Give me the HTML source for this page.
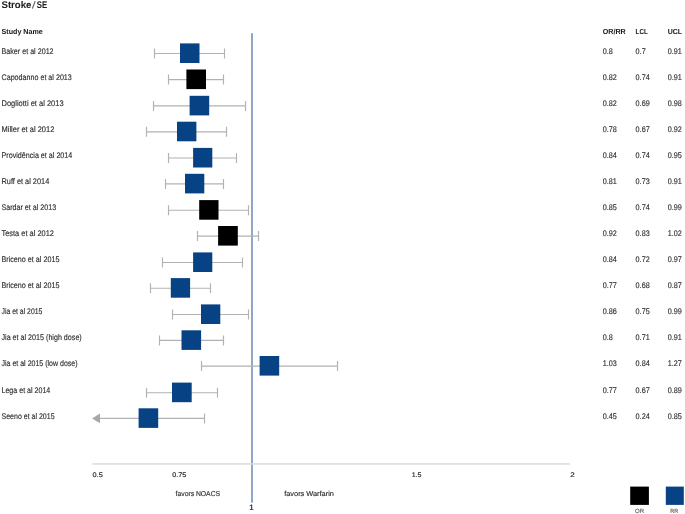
<!DOCTYPE html>
<html><head><meta charset="utf-8"><title>Stroke/SE</title>
<style>
html,body{margin:0;padding:0;background:#fff;width:685px;height:514px;overflow:hidden;}
svg{display:block;font-family:"Liberation Sans", sans-serif;}
.tx{text-rendering:geometricPrecision;will-change:transform;}
</style></head><body>
<svg width="685" height="514" viewBox="0 0 685 514">
<rect x="251" y="33.2" width="2" height="469.5" fill="#8ca8c7"/>
<rect x="92.5" y="463.2" width="477.5" height="1.5" fill="#dadada"/>
<path d="M154.5 53.5H224.5M154.5 48.5V58.5M224.5 48.5V58.5" stroke="#b2b2b2" stroke-width="1.15" fill="none"/>
<rect x="180.0" y="43.4" width="19.50" height="19.6" fill="#074384"/>
<path d="M168.5 79.6H223.5M168.5 74.6V84.6M223.5 74.6V84.6" stroke="#b2b2b2" stroke-width="1.15" fill="none"/>
<rect x="186.4" y="69.5" width="19.60" height="19.6" fill="#000000"/>
<path d="M153.5 105.9H245.5M153.5 100.9V110.9M245.5 100.9V110.9" stroke="#b2b2b2" stroke-width="1.15" fill="none"/>
<rect x="189.6" y="95.8" width="19.60" height="19.6" fill="#074384"/>
<path d="M146.5 131.8H226.5M146.5 126.80000000000001V136.8M226.5 126.80000000000001V136.8" stroke="#b2b2b2" stroke-width="1.15" fill="none"/>
<rect x="177.0" y="121.7" width="19.40" height="19.6" fill="#074384"/>
<path d="M168.5 158.0H236.5M168.5 153.0V163.0M236.5 153.0V163.0" stroke="#b2b2b2" stroke-width="1.15" fill="none"/>
<rect x="193.1" y="147.9" width="19.20" height="19.6" fill="#074384"/>
<path d="M165.5 183.9H223.5M165.5 178.9V188.9M223.5 178.9V188.9" stroke="#b2b2b2" stroke-width="1.15" fill="none"/>
<rect x="185.0" y="173.8" width="19.30" height="19.6" fill="#074384"/>
<path d="M168.5 210.2H248.5M168.5 205.2V215.2M248.5 205.2V215.2" stroke="#b2b2b2" stroke-width="1.15" fill="none"/>
<rect x="199.2" y="200.1" width="19.30" height="19.6" fill="#000000"/>
<path d="M197.5 236.1H258.5M197.5 231.1V241.1M258.5 231.1V241.1" stroke="#b2b2b2" stroke-width="1.15" fill="none"/>
<rect x="218.1" y="226.0" width="19.70" height="19.6" fill="#000000"/>
<path d="M162.5 262.5H242.5M162.5 257.5V267.5M242.5 257.5V267.5" stroke="#b2b2b2" stroke-width="1.15" fill="none"/>
<rect x="193.1" y="252.4" width="19.20" height="19.6" fill="#074384"/>
<path d="M150.5 288.2H210.5M150.5 283.2V293.2M210.5 283.2V293.2" stroke="#b2b2b2" stroke-width="1.15" fill="none"/>
<rect x="170.8" y="278.1" width="19.30" height="19.6" fill="#074384"/>
<path d="M172.5 314.5H248.5M172.5 309.5V319.5M248.5 309.5V319.5" stroke="#b2b2b2" stroke-width="1.15" fill="none"/>
<rect x="201.0" y="304.4" width="19.30" height="19.6" fill="#074384"/>
<path d="M159.5 340.4H223.5M159.5 335.4V345.4M223.5 335.4V345.4" stroke="#b2b2b2" stroke-width="1.15" fill="none"/>
<rect x="181.5" y="330.3" width="19.60" height="19.6" fill="#074384"/>
<path d="M201.5 366.1H337.5M201.5 361.1V371.1M337.5 361.1V371.1" stroke="#b2b2b2" stroke-width="1.15" fill="none"/>
<rect x="259.6" y="356.0" width="19.60" height="19.6" fill="#074384"/>
<path d="M146.5 392.7H217.5M146.5 387.7V397.7M217.5 387.7V397.7" stroke="#b2b2b2" stroke-width="1.15" fill="none"/>
<rect x="172.0" y="382.6" width="19.70" height="19.6" fill="#074384"/>
<path d="M99 418.4H204.5M204.5 413.4V423.4" stroke="#b2b2b2" stroke-width="1.15" fill="none"/>
<path d="M92.1 418.4 L100 413.59999999999997 L100 423.2 Z" fill="#a8a8a8"/>
<rect x="138.6" y="408.3" width="19.60" height="19.6" fill="#074384"/>
<path d="M32.3 8.6L35.2 1.1" stroke="#555" stroke-width="1.05" fill="none"/>
<rect x="630.2" y="486.6" width="18.7" height="18.3" fill="#000"/>
<rect x="665.8" y="486.6" width="18.0" height="18.3" fill="#074384"/>
<g class="tx">
<text id="t_title" x="1.5" y="7.80" font-size="9.7" fill="#1e1e1e" stroke="#1e1e1e" stroke-width="0.05" font-weight="bold" textLength="29.96" lengthAdjust="spacingAndGlyphs">Stroke</text>
<text id="t_title2" x="36.8" y="7.80" font-size="9.7" fill="#1e1e1e" stroke="#1e1e1e" stroke-width="0.05" font-weight="bold" textLength="10.38" lengthAdjust="spacingAndGlyphs">SE</text>
<text id="t_study" x="1.5" y="33.95" font-size="7.3" fill="#1e1e1e" stroke="#1e1e1e" stroke-width="0.05" font-weight="bold" textLength="41.31" lengthAdjust="spacingAndGlyphs">Study Name</text>
<text id="t_h1" x="602.8" y="34.10" font-size="7.3" fill="#1e1e1e" stroke="#1e1e1e" stroke-width="0.05" font-weight="bold" textLength="22.90" lengthAdjust="spacingAndGlyphs">OR/RR</text>
<text id="t_h2" x="635.6" y="34.10" font-size="7.3" fill="#1e1e1e" stroke="#1e1e1e" stroke-width="0.05" font-weight="bold" textLength="12.11" lengthAdjust="spacingAndGlyphs">LCL</text>
<text id="t_h3" x="667.8" y="34.10" font-size="7.3" fill="#1e1e1e" stroke="#1e1e1e" stroke-width="0.05" font-weight="bold" textLength="14.30" lengthAdjust="spacingAndGlyphs">UCL</text>
<text id="n0" x="1.5" y="53.60" font-size="8.2" fill="#2e2e2e" stroke="#2e2e2e" stroke-width="0.15" textLength="52.11" lengthAdjust="spacingAndGlyphs">Baker et al 2012</text>
<text id="v0_0" x="602.8" y="53.60" font-size="8.2" fill="#2e2e2e" stroke="#2e2e2e" stroke-width="0.15" textLength="10.08" lengthAdjust="spacingAndGlyphs">0.8</text>
<text id="v0_1" x="635.6" y="53.60" font-size="8.2" fill="#2e2e2e" stroke="#2e2e2e" stroke-width="0.15" textLength="10.08" lengthAdjust="spacingAndGlyphs">0.7</text>
<text id="v0_2" x="667.8" y="53.60" font-size="8.2" fill="#2e2e2e" stroke="#2e2e2e" stroke-width="0.15" textLength="14.10" lengthAdjust="spacingAndGlyphs">0.91</text>
<text id="n1" x="1.5" y="79.67" font-size="8.2" fill="#2e2e2e" stroke="#2e2e2e" stroke-width="0.15" textLength="70.31" lengthAdjust="spacingAndGlyphs">Capodanno et al 2013</text>
<text id="v1_0" x="602.8" y="79.67" font-size="8.2" fill="#2e2e2e" stroke="#2e2e2e" stroke-width="0.15" textLength="14.10" lengthAdjust="spacingAndGlyphs">0.82</text>
<text id="v1_1" x="635.6" y="79.67" font-size="8.2" fill="#2e2e2e" stroke="#2e2e2e" stroke-width="0.15" textLength="14.10" lengthAdjust="spacingAndGlyphs">0.74</text>
<text id="v1_2" x="667.8" y="79.67" font-size="8.2" fill="#2e2e2e" stroke="#2e2e2e" stroke-width="0.15" textLength="14.10" lengthAdjust="spacingAndGlyphs">0.91</text>
<text id="n2" x="1.5" y="105.74" font-size="8.2" fill="#2e2e2e" stroke="#2e2e2e" stroke-width="0.15" textLength="62.13" lengthAdjust="spacingAndGlyphs">Dogliotti et al 2013</text>
<text id="v2_0" x="602.8" y="105.74" font-size="8.2" fill="#2e2e2e" stroke="#2e2e2e" stroke-width="0.15" textLength="14.10" lengthAdjust="spacingAndGlyphs">0.82</text>
<text id="v2_1" x="635.6" y="105.74" font-size="8.2" fill="#2e2e2e" stroke="#2e2e2e" stroke-width="0.15" textLength="14.10" lengthAdjust="spacingAndGlyphs">0.69</text>
<text id="v2_2" x="667.8" y="105.74" font-size="8.2" fill="#2e2e2e" stroke="#2e2e2e" stroke-width="0.15" textLength="14.10" lengthAdjust="spacingAndGlyphs">0.98</text>
<text id="n3" x="1.5" y="131.81" font-size="8.2" fill="#2e2e2e" stroke="#2e2e2e" stroke-width="0.15" textLength="52.80" lengthAdjust="spacingAndGlyphs">Miller et al 2012</text>
<text id="v3_0" x="602.8" y="131.81" font-size="8.2" fill="#2e2e2e" stroke="#2e2e2e" stroke-width="0.15" textLength="14.10" lengthAdjust="spacingAndGlyphs">0.78</text>
<text id="v3_1" x="635.6" y="131.81" font-size="8.2" fill="#2e2e2e" stroke="#2e2e2e" stroke-width="0.15" textLength="14.10" lengthAdjust="spacingAndGlyphs">0.67</text>
<text id="v3_2" x="667.8" y="131.81" font-size="8.2" fill="#2e2e2e" stroke="#2e2e2e" stroke-width="0.15" textLength="14.10" lengthAdjust="spacingAndGlyphs">0.92</text>
<text id="n4" x="1.5" y="157.88" font-size="8.2" fill="#2e2e2e" stroke="#2e2e2e" stroke-width="0.15" textLength="70.81" lengthAdjust="spacingAndGlyphs">Providência et al 2014</text>
<text id="v4_0" x="602.8" y="157.88" font-size="8.2" fill="#2e2e2e" stroke="#2e2e2e" stroke-width="0.15" textLength="14.10" lengthAdjust="spacingAndGlyphs">0.84</text>
<text id="v4_1" x="635.6" y="157.88" font-size="8.2" fill="#2e2e2e" stroke="#2e2e2e" stroke-width="0.15" textLength="14.10" lengthAdjust="spacingAndGlyphs">0.74</text>
<text id="v4_2" x="667.8" y="157.88" font-size="8.2" fill="#2e2e2e" stroke="#2e2e2e" stroke-width="0.15" textLength="14.10" lengthAdjust="spacingAndGlyphs">0.95</text>
<text id="n5" x="1.5" y="183.95" font-size="8.2" fill="#2e2e2e" stroke="#2e2e2e" stroke-width="0.15" textLength="47.74" lengthAdjust="spacingAndGlyphs">Ruff et al 2014</text>
<text id="v5_0" x="602.8" y="183.95" font-size="8.2" fill="#2e2e2e" stroke="#2e2e2e" stroke-width="0.15" textLength="14.10" lengthAdjust="spacingAndGlyphs">0.81</text>
<text id="v5_1" x="635.6" y="183.95" font-size="8.2" fill="#2e2e2e" stroke="#2e2e2e" stroke-width="0.15" textLength="14.10" lengthAdjust="spacingAndGlyphs">0.73</text>
<text id="v5_2" x="667.8" y="183.95" font-size="8.2" fill="#2e2e2e" stroke="#2e2e2e" stroke-width="0.15" textLength="14.10" lengthAdjust="spacingAndGlyphs">0.91</text>
<text id="n6" x="1.5" y="210.02" font-size="8.2" fill="#2e2e2e" stroke="#2e2e2e" stroke-width="0.15" textLength="54.60" lengthAdjust="spacingAndGlyphs">Sardar et al 2013</text>
<text id="v6_0" x="602.8" y="210.02" font-size="8.2" fill="#2e2e2e" stroke="#2e2e2e" stroke-width="0.15" textLength="14.10" lengthAdjust="spacingAndGlyphs">0.85</text>
<text id="v6_1" x="635.6" y="210.02" font-size="8.2" fill="#2e2e2e" stroke="#2e2e2e" stroke-width="0.15" textLength="14.10" lengthAdjust="spacingAndGlyphs">0.74</text>
<text id="v6_2" x="667.8" y="210.02" font-size="8.2" fill="#2e2e2e" stroke="#2e2e2e" stroke-width="0.15" textLength="14.10" lengthAdjust="spacingAndGlyphs">0.99</text>
<text id="n7" x="1.5" y="236.09" font-size="8.2" fill="#2e2e2e" stroke="#2e2e2e" stroke-width="0.15" textLength="52.41" lengthAdjust="spacingAndGlyphs">Testa et al 2012</text>
<text id="v7_0" x="602.8" y="236.09" font-size="8.2" fill="#2e2e2e" stroke="#2e2e2e" stroke-width="0.15" textLength="14.10" lengthAdjust="spacingAndGlyphs">0.92</text>
<text id="v7_1" x="635.6" y="236.09" font-size="8.2" fill="#2e2e2e" stroke="#2e2e2e" stroke-width="0.15" textLength="14.10" lengthAdjust="spacingAndGlyphs">0.83</text>
<text id="v7_2" x="667.8" y="236.09" font-size="8.2" fill="#2e2e2e" stroke="#2e2e2e" stroke-width="0.15" textLength="14.10" lengthAdjust="spacingAndGlyphs">1.02</text>
<text id="n8" x="1.5" y="262.16" font-size="8.2" fill="#2e2e2e" stroke="#2e2e2e" stroke-width="0.15" textLength="57.87" lengthAdjust="spacingAndGlyphs">Briceno et al 2015</text>
<text id="v8_0" x="602.8" y="262.16" font-size="8.2" fill="#2e2e2e" stroke="#2e2e2e" stroke-width="0.15" textLength="14.10" lengthAdjust="spacingAndGlyphs">0.84</text>
<text id="v8_1" x="635.6" y="262.16" font-size="8.2" fill="#2e2e2e" stroke="#2e2e2e" stroke-width="0.15" textLength="14.10" lengthAdjust="spacingAndGlyphs">0.72</text>
<text id="v8_2" x="667.8" y="262.16" font-size="8.2" fill="#2e2e2e" stroke="#2e2e2e" stroke-width="0.15" textLength="14.10" lengthAdjust="spacingAndGlyphs">0.97</text>
<text id="n9" x="1.5" y="288.23" font-size="8.2" fill="#2e2e2e" stroke="#2e2e2e" stroke-width="0.15" textLength="57.87" lengthAdjust="spacingAndGlyphs">Briceno et al 2015</text>
<text id="v9_0" x="602.8" y="288.23" font-size="8.2" fill="#2e2e2e" stroke="#2e2e2e" stroke-width="0.15" textLength="14.10" lengthAdjust="spacingAndGlyphs">0.77</text>
<text id="v9_1" x="635.6" y="288.23" font-size="8.2" fill="#2e2e2e" stroke="#2e2e2e" stroke-width="0.15" textLength="14.10" lengthAdjust="spacingAndGlyphs">0.68</text>
<text id="v9_2" x="667.8" y="288.23" font-size="8.2" fill="#2e2e2e" stroke="#2e2e2e" stroke-width="0.15" textLength="14.10" lengthAdjust="spacingAndGlyphs">0.87</text>
<text id="n10" x="1.5" y="314.30" font-size="8.2" fill="#2e2e2e" stroke="#2e2e2e" stroke-width="0.15" textLength="40.94" lengthAdjust="spacingAndGlyphs">Jia et al 2015</text>
<text id="v10_0" x="602.8" y="314.30" font-size="8.2" fill="#2e2e2e" stroke="#2e2e2e" stroke-width="0.15" textLength="14.10" lengthAdjust="spacingAndGlyphs">0.86</text>
<text id="v10_1" x="635.6" y="314.30" font-size="8.2" fill="#2e2e2e" stroke="#2e2e2e" stroke-width="0.15" textLength="14.10" lengthAdjust="spacingAndGlyphs">0.75</text>
<text id="v10_2" x="667.8" y="314.30" font-size="8.2" fill="#2e2e2e" stroke="#2e2e2e" stroke-width="0.15" textLength="14.10" lengthAdjust="spacingAndGlyphs">0.99</text>
<text id="n11" x="1.5" y="340.37" font-size="8.2" fill="#2e2e2e" stroke="#2e2e2e" stroke-width="0.15" textLength="80.26" lengthAdjust="spacingAndGlyphs">Jia et al 2015 (high dose)</text>
<text id="v11_0" x="602.8" y="340.37" font-size="8.2" fill="#2e2e2e" stroke="#2e2e2e" stroke-width="0.15" textLength="10.08" lengthAdjust="spacingAndGlyphs">0.8</text>
<text id="v11_1" x="635.6" y="340.37" font-size="8.2" fill="#2e2e2e" stroke="#2e2e2e" stroke-width="0.15" textLength="14.10" lengthAdjust="spacingAndGlyphs">0.71</text>
<text id="v11_2" x="667.8" y="340.37" font-size="8.2" fill="#2e2e2e" stroke="#2e2e2e" stroke-width="0.15" textLength="14.10" lengthAdjust="spacingAndGlyphs">0.91</text>
<text id="n12" x="1.5" y="366.44" font-size="8.2" fill="#2e2e2e" stroke="#2e2e2e" stroke-width="0.15" textLength="76.05" lengthAdjust="spacingAndGlyphs">Jia et al 2015 (low dose)</text>
<text id="v12_0" x="602.8" y="366.44" font-size="8.2" fill="#2e2e2e" stroke="#2e2e2e" stroke-width="0.15" textLength="14.10" lengthAdjust="spacingAndGlyphs">1.03</text>
<text id="v12_1" x="635.6" y="366.44" font-size="8.2" fill="#2e2e2e" stroke="#2e2e2e" stroke-width="0.15" textLength="14.10" lengthAdjust="spacingAndGlyphs">0.84</text>
<text id="v12_2" x="667.8" y="366.44" font-size="8.2" fill="#2e2e2e" stroke="#2e2e2e" stroke-width="0.15" textLength="14.10" lengthAdjust="spacingAndGlyphs">1.27</text>
<text id="n13" x="1.5" y="392.51" font-size="8.2" fill="#2e2e2e" stroke="#2e2e2e" stroke-width="0.15" textLength="48.81" lengthAdjust="spacingAndGlyphs">Lega et al 2014</text>
<text id="v13_0" x="602.8" y="392.51" font-size="8.2" fill="#2e2e2e" stroke="#2e2e2e" stroke-width="0.15" textLength="14.10" lengthAdjust="spacingAndGlyphs">0.77</text>
<text id="v13_1" x="635.6" y="392.51" font-size="8.2" fill="#2e2e2e" stroke="#2e2e2e" stroke-width="0.15" textLength="14.10" lengthAdjust="spacingAndGlyphs">0.67</text>
<text id="v13_2" x="667.8" y="392.51" font-size="8.2" fill="#2e2e2e" stroke="#2e2e2e" stroke-width="0.15" textLength="14.10" lengthAdjust="spacingAndGlyphs">0.89</text>
<text id="n14" x="1.5" y="418.58" font-size="8.2" fill="#2e2e2e" stroke="#2e2e2e" stroke-width="0.15" textLength="53.08" lengthAdjust="spacingAndGlyphs">Seeno et al 2015</text>
<text id="v14_0" x="602.8" y="418.58" font-size="8.2" fill="#2e2e2e" stroke="#2e2e2e" stroke-width="0.15" textLength="14.10" lengthAdjust="spacingAndGlyphs">0.45</text>
<text id="v14_1" x="635.6" y="418.58" font-size="8.2" fill="#2e2e2e" stroke="#2e2e2e" stroke-width="0.15" textLength="14.10" lengthAdjust="spacingAndGlyphs">0.24</text>
<text id="v14_2" x="667.8" y="418.58" font-size="8.2" fill="#2e2e2e" stroke="#2e2e2e" stroke-width="0.15" textLength="14.10" lengthAdjust="spacingAndGlyphs">0.85</text>
<text id="ax0" x="92.5" y="477.00" font-size="6.7" fill="#1e1e1e" stroke="#1e1e1e" stroke-width="0.15" textLength="10.23" lengthAdjust="spacingAndGlyphs">0.5</text>
<text id="ax1" x="172.3" y="477.00" font-size="6.7" fill="#1e1e1e" stroke="#1e1e1e" stroke-width="0.15" textLength="14.06" lengthAdjust="spacingAndGlyphs">0.75</text>
<text id="ax2" x="411.7" y="477.00" font-size="6.7" fill="#1e1e1e" stroke="#1e1e1e" stroke-width="0.15" textLength="9.82" lengthAdjust="spacingAndGlyphs">1.5</text>
<text id="ax3" x="570.2" y="477.00" font-size="6.7" fill="#1e1e1e" stroke="#1e1e1e" stroke-width="0.15" textLength="4.45" lengthAdjust="spacingAndGlyphs">2</text>
<text id="fav1" x="175.6" y="495.60" font-size="7.1" fill="#2e2e2e" stroke="#2e2e2e" stroke-width="0.15" textLength="44.45" lengthAdjust="spacingAndGlyphs">favors NOACS</text>
<text id="fav2" x="284.2" y="495.60" font-size="7.1" fill="#2e2e2e" stroke="#2e2e2e" stroke-width="0.15" textLength="49.72" lengthAdjust="spacingAndGlyphs">favors Warfarin</text>
<text id="one" x="249.3" y="510.20" font-size="7.8" fill="#1d3d6e" stroke="#1d3d6e" stroke-width="0.05" font-weight="bold" textLength="4.39" lengthAdjust="spacingAndGlyphs">1</text>
<text id="lor" x="635.1" y="512.80" font-size="6.0" fill="#5a5a5a" stroke="#5a5a5a" stroke-width="0.15" textLength="9.07" lengthAdjust="spacingAndGlyphs">OR</text>
<text id="lrr" x="670.2" y="512.80" font-size="6.0" fill="#5a5a5a" stroke="#5a5a5a" stroke-width="0.15" textLength="7.89" lengthAdjust="spacingAndGlyphs">RR</text>
</g>
</svg>
</body></html>
